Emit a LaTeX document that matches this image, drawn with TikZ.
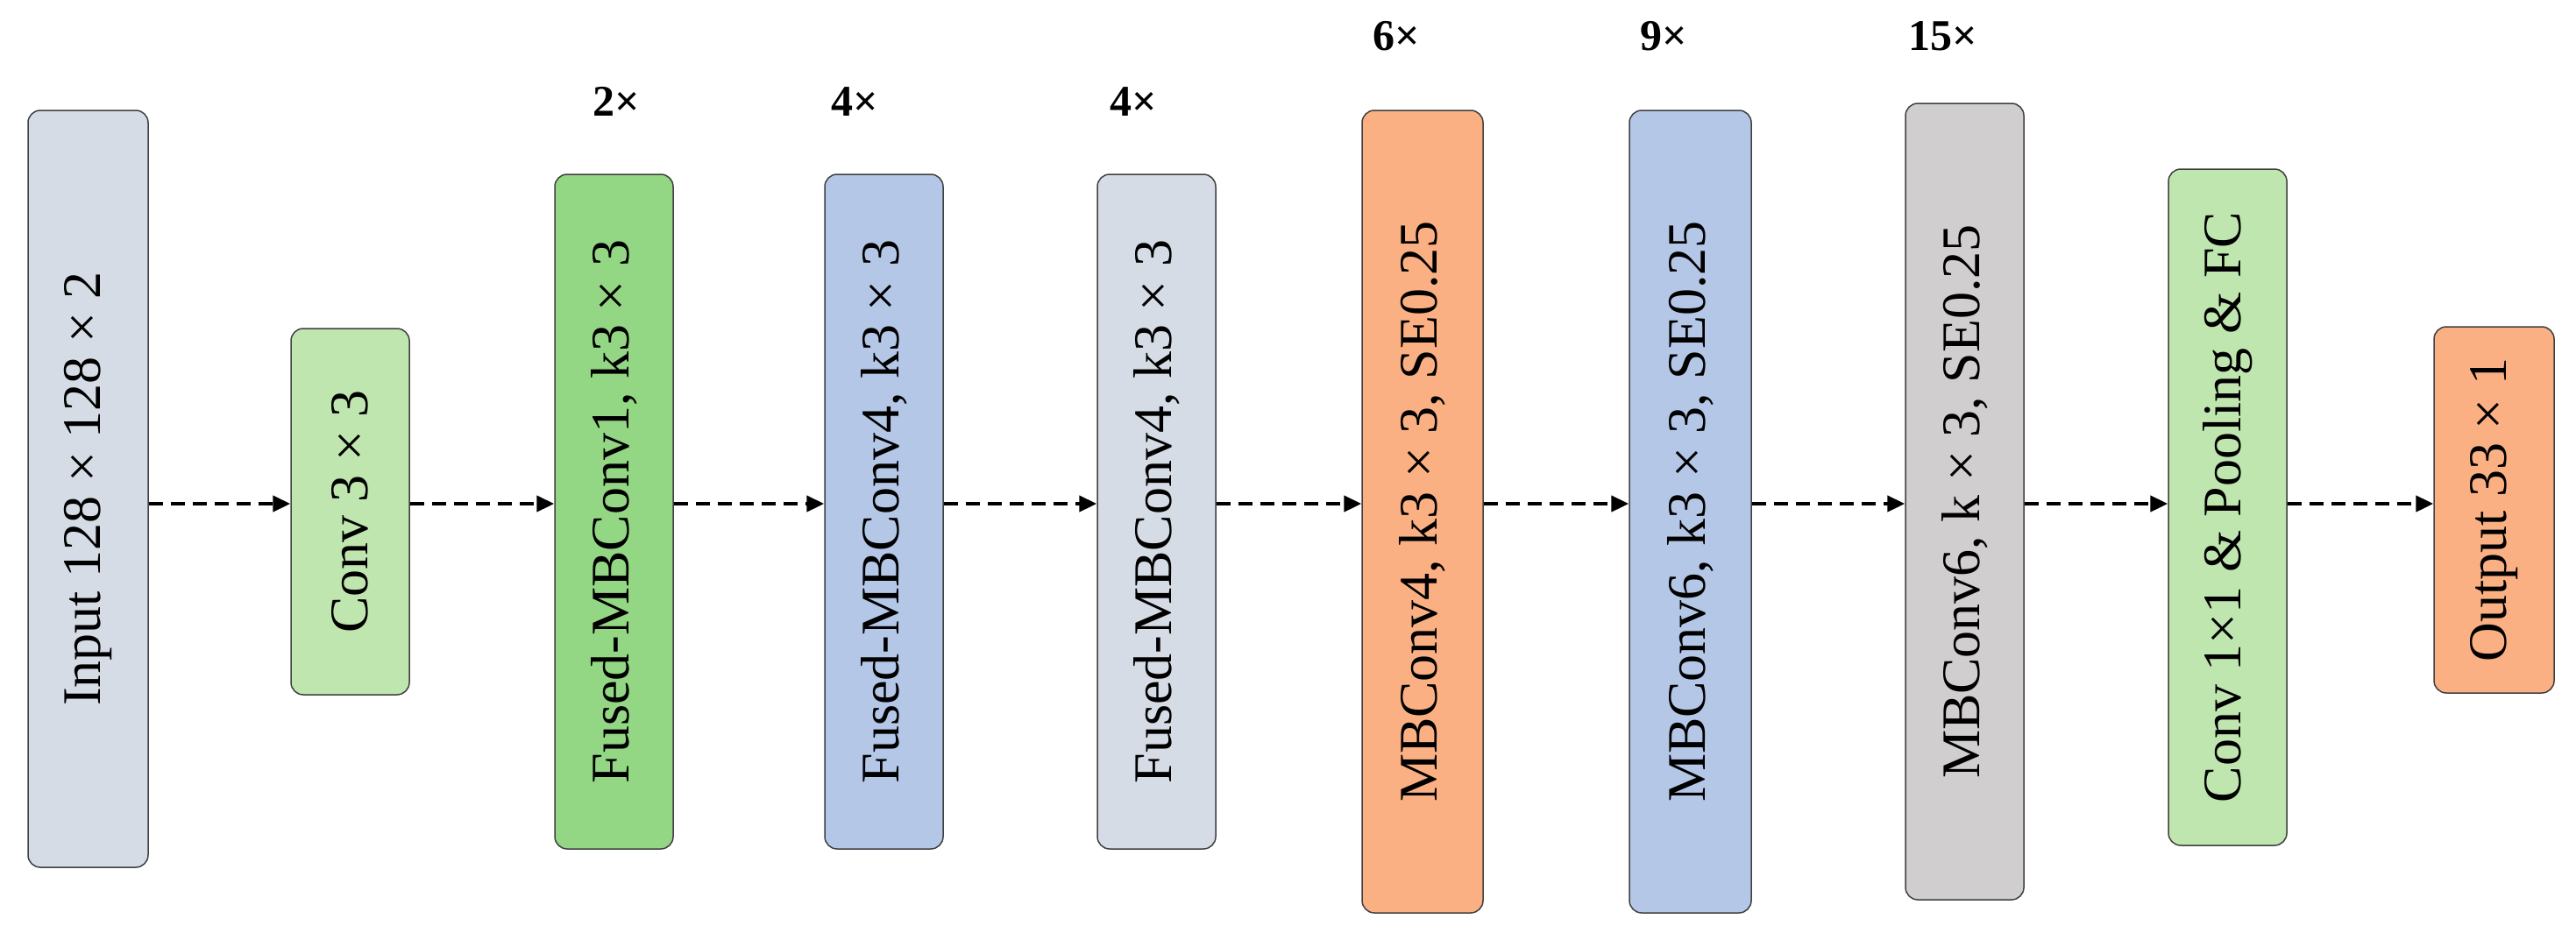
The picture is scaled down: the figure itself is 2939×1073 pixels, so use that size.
\documentclass[tikz,border=0pt]{standalone}
\usepackage{fontspec}
\setmainfont{Liberation Serif}
\usetikzlibrary{arrows.meta}
\definecolor{cin}{HTML}{D6DCE5}
\definecolor{cgl}{HTML}{C0E6B0}
\definecolor{cg}{HTML}{93D683}
\definecolor{cb}{HTML}{B4C7E7}
\definecolor{co}{HTML}{FAB083}
\definecolor{cgr}{HTML}{D0CECE}
\tikzset{
 blk/.style={draw=black!75, line width=1.5pt, rounded corners=14pt, inner sep=0pt, font=\fontsize{62}{70}\selectfont},
 rep/.style={font=\fontsize{50}{56}\selectfont\bfseries},
 arr/.style={-{Triangle[length=20pt,width=18pt]}, line width=4.5pt, dash pattern=on 16pt off 9pt}
}
\newcommand{\blkbox}[7]{% name, x1, x2, y1, y2, color, text
 \node[blk, fill=#6, minimum width=#3-#2, minimum height=#5-#4] (#1) at ({(#2+#3)/2},{(#4+#5)/2}) {\rotatebox{90}{#7}};}
\begin{document}
\begin{tikzpicture}[x=1pt,y=-1pt]
\useasboundingbox (0,0) rectangle (2939,1073);
\blkbox{a}{32}{169}{126}{990}{cin}{Input 128 × 128 × 2}
\blkbox{b}{332}{467}{375}{793}{cgl}{Conv 3 × 3}
\blkbox{c}{633}{768}{199}{969}{cg}{Fused-MBConv1, k3 × 3}
\blkbox{d}{941}{1076}{199}{969}{cb}{Fused-MBConv4, k3 × 3}
\blkbox{e}{1252}{1387}{199}{969}{cin}{Fused-MBConv4, k3 × 3}
\blkbox{f}{1554}{1692}{126}{1042}{co}{MBConv4, k3 × 3, SE0.25}
\blkbox{g}{1859}{1998}{126}{1042}{cb}{MBConv6, k3 × 3, SE0.25}
\blkbox{h}{2174}{2309}{118}{1027}{cgr}{MBConv6, k × 3, SE0.25}
\blkbox{i}{2474}{2609}{193}{965}{cgl}{Conv 1×1 \& Pooling \& FC}
\blkbox{j}{2777}{2914}{373}{791}{co}{Output 33 × 1}
\node[rep] (l1) at (703,116) {2×};
\node[rep] (l2) at (975,116) {4×};
\node[rep] (l3) at (1293,116) {4×};
\node[rep] (l4) at (1593,41) {6×};
\node[rep] (l5) at (1898,41) {9×};
\node[rep] (l6) at (2217,41) {15×};
\foreach \s/\t in {a/b,b/c,c/d,d/e,e/f,f/g,g/h,h/i,i/j}
  \draw[arr] (\s.east |- 0,575) -- (\t.west |- 0,575);
\end{tikzpicture}
\end{document}
